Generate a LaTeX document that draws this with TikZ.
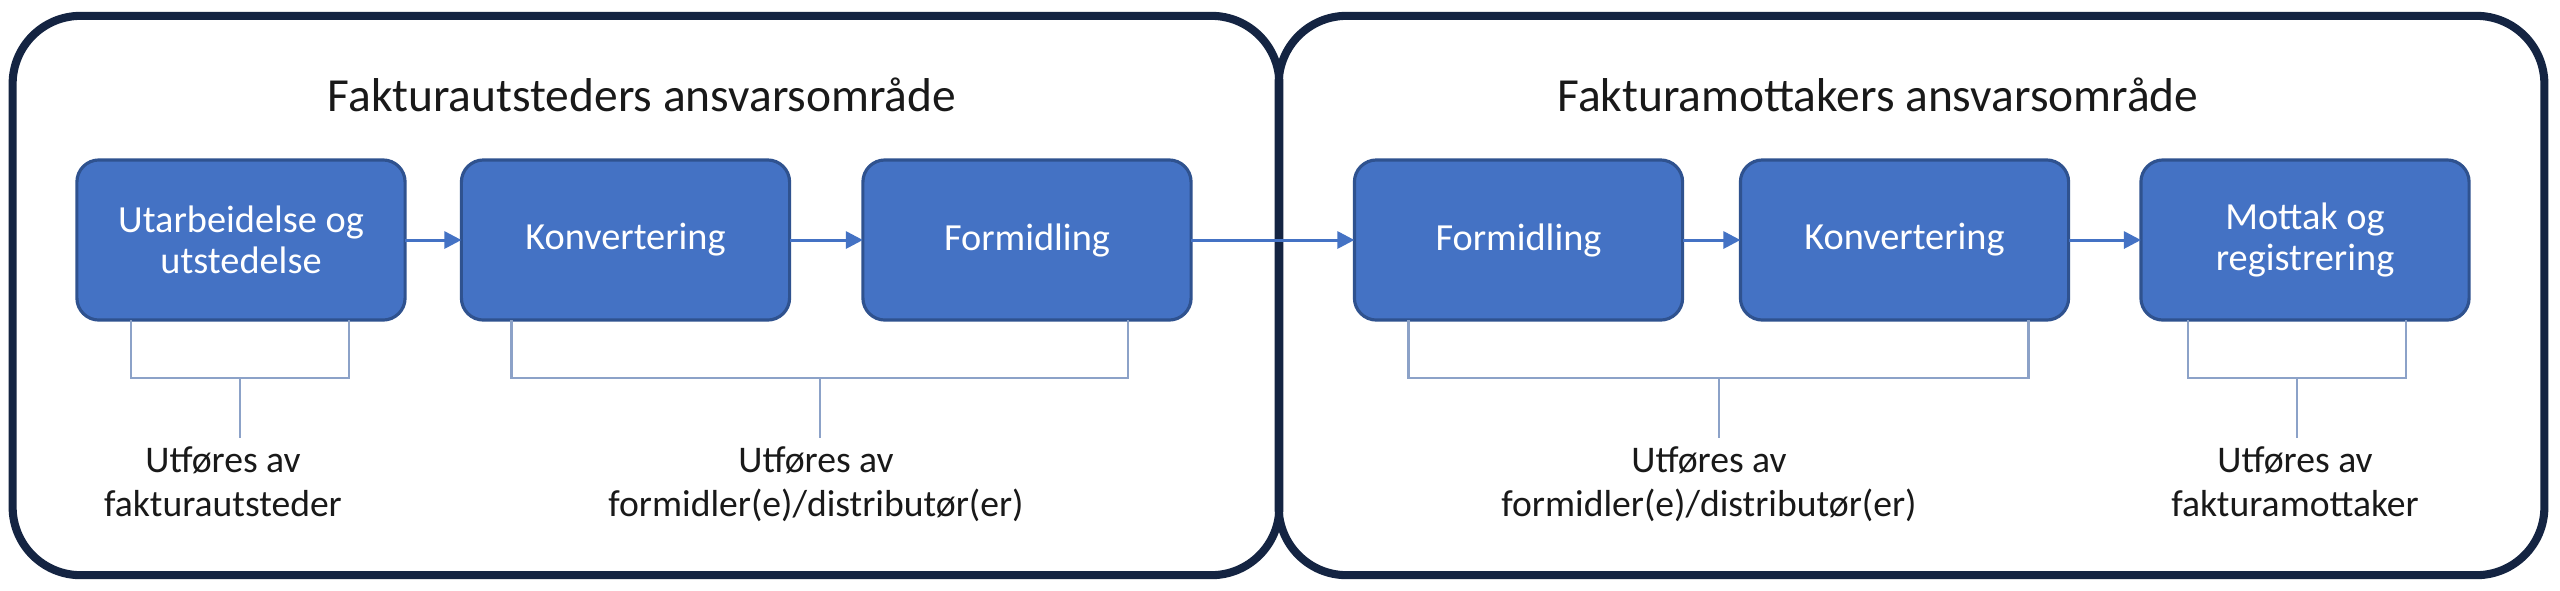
\documentclass[tikz,border=0pt]{standalone}
\usepackage{fontspec}
\setmainfont{Carlito}
\usetikzlibrary{arrows.meta,calc}
\definecolor{frame}{RGB}{20,36,66}
\definecolor{boxfill}{RGB}{68,114,196}
\definecolor{boxline}{RGB}{47,82,143}
\definecolor{brk}{RGB}{140,162,200}
\definecolor{ink}{RGB}{25,25,25}
\begin{document}
\begin{tikzpicture}[x=0.01cm,y=-0.01cm,
  area/.style={draw=frame,line width=2.3pt,rounded corners=0.68cm,minimum height=5.59cm,inner sep=0,outer sep=0},
  proc/.style={draw=boxline,line width=0.9pt,fill=boxfill,rounded corners=0.22cm,minimum width=3.28cm,minimum height=1.6cm,inner sep=0,outer sep=0,text=white,font=\fontsize{10.9}{11.8}\selectfont,align=center},
  flow/.style={draw=boxfill,line width=0.85pt,-{Triangle[length=0.17cm,width=0.17cm]}},
  brace/.style={draw=brk,line width=0.7pt},
  who/.style={font=\fontsize{10.7}{12.5}\selectfont,align=center,anchor=north,inner sep=0,text=ink},
  heading/.style={font=\fontsize{13.5}{16}\selectfont,anchor=base,inner sep=0,text=ink}]
\useasboundingbox[fill=white] (0,0) rectangle (2560,590);

% responsibility areas
\node[area,minimum width=12.66cm] (areaL) at (646,295.5) {};
\node[area,minimum width=12.65cm] (areaR) at (1911.5,295.5) {};

% headings
\node[heading] (hL) at (642,111) {Fakturautsteders ansvarsområde};
\node[heading] (hR) at (1878,111) {Fakturamottakers ansvarsområde};

% process boxes
\node[proc] (b1) at (241,240) {Utarbeidelse og\\utstedelse};
\node[proc] (b2) at (625.5,240) {Konvertering};
\node[proc] (b3) at (1027,240) {Formidling};
\node[proc] (b4) at (1518.5,240) {Formidling};
\node[proc] (b5) at (1904.5,240) {Konvertering};
\node[proc] (b6) at (2305,240) {Mottak og\\registrering};

% flow arrows
\draw[flow] (b1) -- (b2);
\draw[flow] (b2) -- (b3);
\draw[flow] (b3) -- (b4);
\draw[flow] (b4) -- (b5);
\draw[flow] (b5) -- (b6);

% labels
\node[who] (l1) at (223,446) {Utføres av\\fakturautsteder};
\node[who] (l2) at (816,446) {Utføres av\\formidler(e)/distributør(er)};
\node[who] (l3) at (1709,446) {Utføres av\\formidler(e)/distributør(er)};
\node[who] (l4) at (2295,446) {Utføres av\\fakturamottaker};

% brackets
\draw[brace] ($(b1.south west)+(54,0)$) -- ++(0,58) -| ($(b1.south east)+(-56,0)$);
\coordinate (k1) at (240,378);
\draw[brace] (k1) -- (k1 |- 0,438);

\draw[brace] ($(b2.south west)+(50,0)$) -- ++(0,58) -| ($(b3.south east)+(-63,0)$);
\coordinate (k2) at (820,378);
\draw[brace] (k2) -- (k2 |- 0,438);

\draw[brace] ($(b4.south west)+(54,0)$) -- ++(0,58) -| ($(b5.south east)+(-40,0)$);
\coordinate (k3) at (1719,378);
\draw[brace] (k3) -- (k3 |- 0,438);

\draw[brace] ($(b6.south west)+(47,0)$) -- ++(0,58) -| ($(b6.south east)+(-63,0)$);
\coordinate (k4) at (2297,378);
\draw[brace] (k4) -- (k4 |- 0,438);
\end{tikzpicture}
\end{document}
